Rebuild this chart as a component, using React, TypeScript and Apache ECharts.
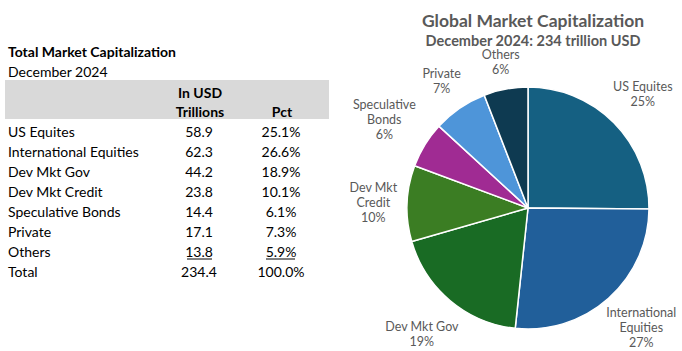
import React, { useEffect, useRef } from "react";
import * as echarts from "echarts";

// ---- data ----
const categories = [
  "US Equites",
  "International Equities",
  "Dev Mkt Gov",
  "Dev Mkt Credit",
  "Speculative Bonds",
  "Private",
  "Others",
];
const valuesTrillions = [58.9, 62.3, 44.2, 23.8, 14.4, 17.1, 13.8];
const pctLabels = ["25.1%", "26.6%", "18.9%", "10.1%", "6.1%", "7.3%", "5.9%"];
const totalLabel = "Total";
const totalValue = "234.4";
const totalPct = "100.0%";
const pieLabelNames = [
  "US Equites",
  "International\nEquities",
  "Dev Mkt Gov",
  "Dev Mkt\nCredit",
  "Speculative\nBonds",
  "Private",
  "Others",
];
const sliceColors = ["#156082", "#215F9A", "#196B24", "#3B7D23", "#A02B93", "#4E95D9", "#0E3A51"];

const tableTitle = "Total Market Capitalization";
const tableSubtitle = "December 2024";
const headerLine1 = "In USD";
const headerLine2 = "Trillions";
const headerPct = "Pct";
const chartTitle = "Global Market Capitalization";
const chartSubtitle = "December 2024: 234 trillion USD";

// ---- layout ----
const W = 682;
const H = 351;
const FONT = "Lato, 'Noto Sans', sans-serif";
const PIE_CX = 528;
const PIE_CY = 208;
const PIE_R = 121;
const LABEL_GAP = 9;

function txt(text: string, x: number, y: number, opts: any = {}) {
  const align = opts.align || "left";
  return {
    type: "text",
    x,
    y,
    silent: true,
    style: {
      text,
      fill: opts.color || "#000000",
      fontSize: opts.size || 14,
      fontWeight: opts.weight || "normal",
      fontFamily: FONT,
      align,
      textAlign: align,
      verticalAlign: "middle",
      textVerticalAlign: "middle",
    },
  };
}

export default function App() {
  const ref = useRef<HTMLDivElement>(null);

  useEffect(() => {
    if (!ref.current) return;
    const chart = echarts.init(ref.current, null, { renderer: "svg" });

    const labelX = 8;
    const valX = 199;
    const pctX = 281;
    const rowY0 = 131;
    const rowH = 20;

    const graphics: any[] = [];
    graphics.push({
      type: "rect",
      silent: true,
      shape: { x: 5, y: 80, width: 324, height: 39 },
      style: { fill: "#D9D9D9" },
    });
    graphics.push(txt(tableTitle, labelX, 51, { weight: "bold" }));
    graphics.push(txt(tableSubtitle, labelX, 71));
    graphics.push(txt(headerLine1, valX + 1, 92, { weight: "bold", align: "center" }));
    graphics.push(txt(headerLine2, valX + 1, 111, { weight: "bold", align: "center" }));
    graphics.push(txt(headerPct, pctX + 1, 111, { weight: "bold", align: "center" }));

    categories.forEach((c, i) => {
      const y = rowY0 + i * rowH;
      graphics.push(txt(c, labelX, y));
      graphics.push(txt(valuesTrillions[i].toFixed(1), valX, y, { align: "center" }));
      graphics.push(txt(pctLabels[i], pctX, y, { align: "center" }));
    });
    const lastY = rowY0 + (categories.length - 1) * rowH;
    graphics.push({
      type: "line",
      silent: true,
      shape: { x1: 187, y1: lastY + 8, x2: 212, y2: lastY + 8 },
      style: { stroke: "#000", lineWidth: 1 },
    });
    graphics.push({
      type: "line",
      silent: true,
      shape: { x1: 266, y1: lastY + 8, x2: 295, y2: lastY + 8 },
      style: { stroke: "#000", lineWidth: 1 },
    });
    const totY = rowY0 + categories.length * rowH;
    graphics.push(txt(totalLabel, labelX, totY));
    graphics.push(txt(totalValue, valX, totY, { align: "center" }));
    graphics.push(txt(totalPct, pctX, totY, { align: "center" }));

    chart.setOption({
      animation: false,
      backgroundColor: "#ffffff",
      title: [
        {
          text: chartTitle,
          left: PIE_CX,
          top: 5,
          padding: 5,
          textAlign: "center",
          textStyle: { fontFamily: FONT, fontSize: 17.5, fontWeight: "bold", color: "#595959", lineHeight: 20 },
        },
        {
          text: chartSubtitle,
          left: PIE_CX,
          top: 26,
          padding: 5,
          textAlign: "center",
          textStyle: { fontFamily: FONT, fontSize: 14.5, fontWeight: "bold", color: "#595959", lineHeight: 18 },
        },
      ],
      graphic: graphics,
      series: [
        {
          type: "pie",
          center: [PIE_CX, PIE_CY],
          radius: PIE_R,
          startAngle: 90,
          clockwise: true,
          avoidLabelOverlap: false,
          itemStyle: { borderColor: "#ffffff", borderWidth: 1.5 },
          label: {
            show: true,
            position: "outside",
            fontFamily: FONT,
            fontSize: 12.5,
            lineHeight: 15,
            color: "#595959",
            formatter: (p: any) => `${pieLabelNames[p.dataIndex]}\n${Math.round(p.percent)}%`,
          },
          labelLine: { show: false, length: 10, length2: 0 },
          labelLayout: (p: any) => {
            const pts = p.labelLinePoints;
            if (!pts || pts.length < 2) return {};
            const [p0, p1] = pts;
            let ux = p1[0] - p0[0];
            let uy = p1[1] - p0[1];
            const len = Math.hypot(ux, uy) || 1;
            ux /= len;
            uy /= len;
            const w = p.labelRect.width;
            const h = p.labelRect.height;
            const d = LABEL_GAP + (Math.abs(ux) * w) / 2 + (Math.abs(uy) * h) / 2;
            let x = p0[0] + ux * d;
            let y = p0[1] + uy * d;
            y = Math.min(y, H - h / 2 - 1);
            x = Math.min(x, W - w / 2 - 1);
            return { x, y, align: "center", verticalAlign: "middle" };
          },
          data: categories.map((c, i) => ({
            name: c,
            value: valuesTrillions[i],
            itemStyle: { color: sliceColors[i] },
          })),
        },
      ],
    });

    return () => chart.dispose();
  }, []);

  return (
    <div
      ref={ref}
      style={{ position: "absolute", left: 0, top: 0, width: W, height: H, background: "#fff" }}
    />
  );
}
